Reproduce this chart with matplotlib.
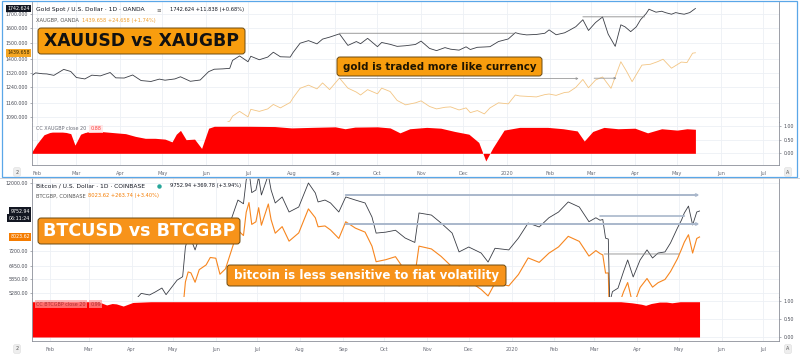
import matplotlib
matplotlib.use("Agg")
import matplotlib.pyplot as plt
import matplotlib.transforms as mtransforms
from matplotlib.patches import FancyBboxPatch, Rectangle
from matplotlib.ticker import FixedLocator, FixedFormatter, NullLocator
import pandas as pd

W, H = 800, 357

# ---------------- data: gold (top chart) ----------------
gold_dates = ["2019-01-28", "2019-01-31", "2019-02-05", "2019-02-08", "2019-02-13", "2019-02-20",
              "2019-02-25", "2019-03-01", "2019-03-07", "2019-03-12", "2019-03-18", "2019-03-25",
              "2019-03-29", "2019-04-04", "2019-04-10", "2019-04-16", "2019-04-23", "2019-04-29",
              "2019-05-03", "2019-05-10", "2019-05-14", "2019-05-21", "2019-05-28", "2019-06-03",
              "2019-06-07", "2019-06-13", "2019-06-18", "2019-06-20", "2019-06-25", "2019-07-01",
              "2019-07-03", "2019-07-09", "2019-07-15", "2019-07-19", "2019-07-24", "2019-07-31",
              "2019-08-02", "2019-08-07", "2019-08-13", "2019-08-19", "2019-08-23", "2019-08-28",
              "2019-09-04", "2019-09-10", "2019-09-16", "2019-09-19", "2019-09-24", "2019-10-01",
              "2019-10-04", "2019-10-10", "2019-10-15", "2019-10-21", "2019-10-28", "2019-11-01",
              "2019-11-07", "2019-11-12", "2019-11-18", "2019-11-22", "2019-11-28", "2019-12-03",
              "2019-12-06", "2019-12-11", "2019-12-16", "2019-12-20", "2019-12-26", "2020-01-02",
              "2020-01-07", "2020-01-10", "2020-01-15", "2020-01-22", "2020-01-28", "2020-01-31",
              "2020-02-05", "2020-02-11", "2020-02-14", "2020-02-19", "2020-02-24", "2020-02-28",
              "2020-03-04", "2020-03-09", "2020-03-13", "2020-03-18", "2020-03-22", "2020-03-25",
              "2020-03-29", "2020-04-02", "2020-04-05", "2020-04-09", "2020-04-11", "2020-04-16",
              "2020-04-20", "2020-04-23", "2020-04-27", "2020-04-30", "2020-05-03", "2020-05-06",
              "2020-05-10", "2020-05-14"]
gold_usd = [1303, 1320, 1315, 1314, 1306, 1340,
            1328, 1294, 1286, 1307, 1303, 1322,
            1292, 1291, 1308, 1277, 1272, 1285,
            1279, 1286, 1298, 1273, 1280, 1327,
            1341, 1343, 1346, 1393, 1420, 1385,
            1418, 1397, 1413, 1443, 1415, 1413,
            1441, 1500, 1517, 1496, 1527, 1540,
            1562, 1486, 1511, 1497, 1532, 1478,
            1505, 1493, 1480, 1484, 1492, 1514,
            1467, 1453, 1472, 1462, 1456, 1477,
            1460, 1474, 1476, 1478, 1511, 1528,
            1570, 1562, 1555, 1558, 1566, 1589,
            1556, 1569, 1584, 1611, 1660, 1585,
            1640, 1680, 1560, 1480, 1624, 1610,
            1577, 1610, 1660, 1705, 1737, 1715,
            1722, 1711, 1700, 1712, 1705, 1700,
            1712, 1742.624]

gold_gbp_dates = ["2019-01-28", "2019-02-08", "2019-02-20", "2019-03-01", "2019-03-12", "2019-03-25",
                  "2019-04-04", "2019-04-16", "2019-04-23", "2019-05-03", "2019-05-14", "2019-05-21",
                  "2019-05-28", "2019-06-03", "2019-06-07", "2019-06-13", "2019-06-18", "2019-06-20",
                  "2019-06-25", "2019-07-01", "2019-07-03", "2019-07-09", "2019-07-15", "2019-07-19",
                  "2019-07-24", "2019-07-31", "2019-08-02", "2019-08-07", "2019-08-13", "2019-08-19",
                  "2019-08-23", "2019-08-28", "2019-09-04", "2019-09-10", "2019-09-16", "2019-09-19",
                  "2019-09-24", "2019-10-01", "2019-10-04", "2019-10-10", "2019-10-15", "2019-10-21",
                  "2019-10-28", "2019-11-01", "2019-11-07", "2019-11-12", "2019-11-18", "2019-11-22",
                  "2019-11-28", "2019-12-03", "2019-12-06", "2019-12-11", "2019-12-16", "2019-12-20",
                  "2019-12-26", "2020-01-02", "2020-01-07", "2020-01-10", "2020-01-15", "2020-01-22",
                  "2020-01-28", "2020-01-31", "2020-02-05", "2020-02-11", "2020-02-14", "2020-02-19",
                  "2020-02-24", "2020-02-28", "2020-03-04", "2020-03-09", "2020-03-15", "2020-03-22",
                  "2020-03-26", "2020-03-30", "2020-04-06", "2020-04-12", "2020-04-17", "2020-04-21",
                  "2020-04-27", "2020-05-04", "2020-05-08", "2020-05-12", "2020-05-14"]
gold_gbp = [995, 1016, 1028, 979, 985, 1002,
            985, 978, 981, 983, 1006, 1002,
            1011, 1049, 1055, 1058, 1072, 1095,
            1118, 1092, 1128, 1118, 1130, 1152,
            1135, 1162, 1185, 1235, 1252, 1232,
            1264, 1228, 1291, 1236, 1215, 1200,
            1228, 1206, 1236, 1218, 1172, 1150,
            1160, 1170, 1142, 1130, 1138, 1140,
            1125, 1135, 1112, 1122, 1106, 1135,
            1160, 1155, 1200, 1195, 1193, 1190,
            1202, 1205, 1198, 1213, 1215, 1240,
            1283, 1238, 1280, 1297, 1235, 1385,
            1330, 1271, 1365, 1370, 1385, 1400,
            1347, 1383, 1380, 1437, 1439.658]

cc_gold_dates = ["2019-01-28", "2019-02-01", "2019-02-06", "2019-02-12", "2019-02-19", "2019-02-25",
                 "2019-02-28", "2019-03-04", "2019-03-08", "2019-03-18", "2019-03-27", "2019-04-05",
                 "2019-04-12", "2019-04-19", "2019-04-26", "2019-05-03", "2019-05-08", "2019-05-11",
                 "2019-05-14", "2019-05-18", "2019-05-24", "2019-05-29", "2019-06-03", "2019-06-07",
                 "2019-07-01", "2019-07-20", "2019-08-01", "2019-08-15", "2019-09-01", "2019-09-08",
                 "2019-09-15", "2019-10-01", "2019-10-10", "2019-10-17", "2019-10-24", "2019-11-05",
                 "2019-11-15", "2019-11-25", "2019-12-05", "2019-12-12", "2019-12-17", "2019-12-22",
                 "2019-12-30", "2020-01-10", "2020-01-30", "2020-02-10", "2020-02-20", "2020-02-25",
                 "2020-03-02", "2020-03-10", "2020-03-20", "2020-04-01", "2020-04-10", "2020-04-20",
                 "2020-05-01", "2020-05-08", "2020-05-14"]
cc_gold = [0.02, 0.35, 0.68, 0.80, 0.80, 0.72,
           0.30, 0.70, 0.78, 0.80, 0.76, 0.72,
           0.62, 0.55, 0.55, 0.52, 0.42, 0.70,
           0.84, 0.50, 0.52, 0.18, 0.92, 0.99,
           0.99, 0.98, 0.93, 0.95, 0.97, 0.90,
           0.96, 0.97, 0.93, 0.75, 0.90, 0.95,
           0.92, 0.80, 0.70, 0.40, -0.28, 0.20,
           0.85, 0.95, 0.95, 0.90, 0.82, 0.45,
           0.80, 0.95, 0.90, 0.92, 0.75, 0.90,
           0.85, 0.90, 0.88]

# ---------------- data: bitcoin (bottom chart) ----------------
btc_dates = ["2019-01-19", "2019-01-28", "2019-02-07", "2019-02-09", "2019-02-24", "2019-02-25",
             "2019-03-10", "2019-03-25", "2019-04-01", "2019-04-02", "2019-04-08", "2019-04-14",
             "2019-04-18", "2019-04-23", "2019-04-26", "2019-05-04", "2019-05-08", "2019-05-10",
             "2019-05-12", "2019-05-14", "2019-05-17", "2019-05-20", "2019-05-25", "2019-05-28",
             "2019-06-01", "2019-06-04", "2019-06-08", "2019-06-12", "2019-06-17", "2019-06-21",
             "2019-06-23", "2019-06-25", "2019-06-27", "2019-06-30", "2019-07-02", "2019-07-04",
             "2019-07-06", "2019-07-09", "2019-07-11", "2019-07-14", "2019-07-19", "2019-07-24",
             "2019-07-31", "2019-08-07", "2019-08-12", "2019-08-14", "2019-08-19", "2019-08-23",
             "2019-08-29", "2019-09-03", "2019-09-10", "2019-09-17", "2019-09-22", "2019-09-25",
             "2019-10-02", "2019-10-09", "2019-10-16", "2019-10-23", "2019-10-26", "2019-11-04",
             "2019-11-11", "2019-11-19", "2019-11-24", "2019-12-01", "2019-12-10", "2019-12-15",
             "2019-12-20", "2019-12-30", "2020-01-06", "2020-01-13", "2020-01-21", "2020-01-28",
             "2020-02-04", "2020-02-11", "2020-02-19", "2020-02-26", "2020-03-02", "2020-03-05",
             "2020-03-07", "2020-03-09", "2020-03-11", "2020-03-12", "2020-03-14", "2020-03-18",
             "2020-03-22", "2020-03-25", "2020-03-29", "2020-04-03", "2020-04-08", "2020-04-12",
             "2020-04-16", "2020-04-21", "2020-04-25", "2020-04-30", "2020-05-03", "2020-05-05",
             "2020-05-08", "2020-05-11", "2020-05-14", "2020-05-16"]
btc_usd = [3650, 3450, 3400, 3650, 4100, 3800,
           3900, 4000, 4150, 4900, 5250, 5187,
           5300, 5465, 5200, 5800, 5950, 7440,
           8020, 7900, 7277, 8000, 8260, 8700,
           8650, 7700, 8020, 9120, 10590, 10300,
           12320, 13200, 11200, 11420, 12600, 11000,
           11680, 12800, 11420, 10360, 10840, 9680,
           10050, 12040, 11170, 10440, 10590, 10360,
           9680, 10840, 10590, 10360, 9320, 8260,
           8320, 8440, 7960, 7700, 9610, 9460,
           8910, 8260, 7170, 7440, 7110, 6645,
           7370, 7280, 7960, 8910, 8650, 9270,
           9680, 10440, 10050, 9000, 9270, 9100,
           9150, 7950, 7900, 4900, 5320, 5460,
           6185, 6750, 5940, 6750, 7280, 6850,
           7110, 7170, 7670, 8580, 9120, 9610,
           10120, 8780, 9680, 9752.94]
btc_gbp = [2808, 2654, 2615, 2808, 3154, 2923,
           2977, 3030, 3168, 3740, 4008, 3960,
           4077, 4220, 4031, 4427, 4577, 5723,
           6169, 6124, 5707, 6275, 6504, 6877,
           6838, 6063, 6315, 7181, 8438, 8110,
           9663, 10394, 8819, 8992, 10000, 8765,
           9344, 10281, 9136, 8255, 8672, 7775,
           8272, 9909, 9270, 8664, 8716, 8457,
           7934, 8996, 8575, 8321, 7486, 6661,
           6764, 6918, 6219, 5992, 7490, 7333,
           6934, 6403, 5558, 5767, 5407, 5150,
           5669, 5557, 6053, 6854, 6628, 7103,
           7446, 8062, 7761, 6950, 7242, 7082,
           7011, 6115, 6124, 3874, 4325, 4707,
           5309, 5696, 4771, 5488, 5871, 5502,
           5688, 5829, 6185, 6810, 7325, 7719,
           8161, 7109, 7934, 8023.62]

cc_btc_dates = ["2019-01-19", "2019-02-15", "2019-03-08", "2019-03-14", "2019-03-18", "2019-03-21",
                "2019-03-26", "2019-04-02", "2019-04-15", "2019-08-01", "2020-01-01", "2020-03-20",
                "2020-03-28", "2020-04-04", "2020-04-07", "2020-04-11", "2020-04-17", "2020-04-22",
                "2020-04-26", "2020-05-02", "2020-05-16"]
cc_btc = [0.98, 0.98, 0.98, 0.89, 0.93, 0.92,
          0.86, 0.96, 0.98, 0.98, 0.98, 0.98,
          0.95, 0.91, 0.88, 0.93, 0.97, 0.97,
          0.95, 0.98, 0.98]

month_ticks = ["2019-02-01", "2019-03-01", "2019-04-01", "2019-05-01", "2019-06-01", "2019-07-01",
               "2019-08-01", "2019-09-01", "2019-10-01", "2019-11-01", "2019-12-01", "2020-01-01",
               "2020-02-01", "2020-03-01", "2020-04-01", "2020-05-01", "2020-06-01", "2020-07-01"]
month_labels = ["Feb", "Mar", "Apr", "May", "Jun", "Jul", "Aug", "Sep", "Oct", "Nov", "Dec",
                "2020", "Feb", "Mar", "Apr", "May", "Jun", "Jul"]
gold_yticks = [1090, 1160, 1240, 1320, 1400, 1500, 1600, 1700]
btc_yticks = [5280, 5850, 6450, 7200, 12000]
cc_yticks = [0.0, 0.5, 1.0]

D = pd.to_datetime
GRID = "#edf0f5"
AXC = "#8c8f99"
TXT = "#4a4d57"

fig = plt.figure(figsize=(8, 3.57), dpi=100)
fig.patch.set_facecolor("white")


def px_axes(x0, y0, x1, y1):
    return fig.add_axes([x0 / W, 1 - y1 / H, (x1 - x0) / W, (y1 - y0) / H])


def style(ax, xlim, labels=False):
    ax.set_xlim(D(xlim[0]), D(xlim[1]))
    ax.set_xticks(D(month_ticks))
    ax.grid(True, color=GRID, lw=0.6)
    ax.set_axisbelow(True)
    for s in ax.spines.values():
        s.set_color(AXC)
        s.set_linewidth(0.6)
    ax.spines["top"].set_visible(False)
    if labels:
        ax.set_xticklabels(month_labels)
        ax.tick_params(axis="x", length=0, pad=4.2, labelsize=3.6, labelcolor="#6a6d78")
    else:
        ax.tick_params(axis="x", length=0, labelbottom=False)


def price_scale(ax, ticks, fmt, lo, hi):
    ax.set_yscale("log")
    ax.set_ylim(lo, hi)
    ax.yaxis.set_major_locator(FixedLocator(ticks))
    ax.yaxis.set_major_formatter(FixedFormatter([fmt % t for t in ticks]))
    ax.yaxis.set_minor_locator(NullLocator())
    ax.tick_params(axis="y", length=1.5, width=0.5, pad=1.5, labelsize=3.4,
                   labelcolor=TXT, color=AXC)


def cc_scale(ax, lo, hi):
    ax.set_ylim(lo, hi)
    ax.yaxis.tick_right()
    ax.set_yticks(cc_yticks)
    ax.set_yticklabels(["%.2f" % v for v in cc_yticks])
    ax.tick_params(axis="y", length=1.5, width=0.5, pad=2, labelsize=3.4,
                   labelcolor=TXT, color=AXC)


def price_tag(ax, value, text, fc, tc, dy=0):
    tr = mtransforms.blended_transform_factory(ax.transAxes, ax.transData)
    ax.annotate(text, xy=(0, value), xycoords=tr, xytext=(-1.5, dy), textcoords="offset points",
                ha="right", va="center", fontsize=3.4, color=tc, clip_on=False, zorder=6,
                bbox=dict(boxstyle="square,pad=0.3", fc=fc, ec="none"))


def hline(ax, d0, d1, value, color, lw, arrow=True):
    ax.annotate("", xy=(D(d1), value), xytext=(D(d0), value),
                arrowprops=dict(arrowstyle="-|>" if arrow else "-", color=color, lw=lw,
                                mutation_scale=3, shrinkA=0, shrinkB=0), zorder=4)


gold_xlim = ("2019-01-28 11:00", "2020-07-12 10:00")
btc_xlim = ("2019-01-19 00:00", "2020-07-12 12:00")

# ---- top chart ----
ax_g = px_axes(32, 2, 779, 122)
style(ax_g, gold_xlim)
price_scale(ax_g, gold_yticks, "%.3f", 1068, 1792)
ax_g.plot(D(gold_gbp_dates), gold_gbp, color="#f3c583", lw=0.6)
ax_g.plot(D(gold_dates), gold_usd, color="#3a3d45", lw=0.6)
hline(ax_g, "2019-09-04", "2020-01-06", 1566, "#8a8a8a", 0.6, arrow=False)
hline(ax_g, "2020-02-24", "2020-04-08", 1681, "#8a8a8a", 0.6, arrow=False)
hline(ax_g, "2019-09-04", "2020-02-21", 1288, "#9a9a9a", 0.6)
hline(ax_g, "2020-03-03", "2020-03-19", 1290, "#9a9a9a", 0.6)
price_tag(ax_g, 1742.624, "1742.624", "#131722", "white")
price_tag(ax_g, 1439.658, "1439.658", "#f5a623", "#3a2a00")

ax_gc = px_axes(32, 122, 779, 165)
style(ax_gc, gold_xlim, labels=True)
cc_scale(ax_gc, -0.428, 1.147)
ax_gc.fill_between(D(cc_gold_dates), 0, cc_gold, color="#ff0000", lw=0)

# ---- bottom chart ----
ax_b = px_axes(32, 178, 779, 297)
style(ax_b, btc_xlim)
price_scale(ax_b, btc_yticks, "%.2f", 5109, 12500)
ax_b.plot(D(btc_dates), btc_gbp, color="#f7861f", lw=0.8)
ax_b.plot(D(btc_dates), btc_usd, color="#3a3d45", lw=0.6)
hline(ax_b, "2019-09-03", "2020-05-16", 11000, "#a9b7cb", 1.4)
hline(ax_b, "2019-09-03", "2020-05-16", 8845, "#a9b7cb", 1.4)
hline(ax_b, "2020-03-05", "2020-05-05", 9393, "#a9b7cb", 1.2, arrow=False)
hline(ax_b, "2020-03-08", "2020-05-01", 7060, "#8a8a8a", 0.6, arrow=False)
price_tag(ax_b, 9752.94, "9752.94", "#131722", "white")
price_tag(ax_b, 9752.94, "06:11:24", "#131722", "white", dy=-5.3)
price_tag(ax_b, 8023.62, "8023.62", "#f57c00", "white")

ax_bc = px_axes(32, 297, 779, 341)
style(ax_bc, btc_xlim, labels=True)
cc_scale(ax_bc, -0.111, 1.111)
ax_bc.fill_between(D(cc_btc_dates), 0, cc_btc, color="#ff0000", lw=0)

# ---- overlay for legends, callouts and frame ----
ov = fig.add_axes([0, 0, 1, 1], zorder=10)
ov.set_xlim(0, W)
ov.set_ylim(H, 0)
ov.axis("off")
ov.patch.set_alpha(0)

ov.add_patch(Rectangle((1.5, 1), 795.5, 175.5, fill=False, ec="#5aa7e8", lw=0.9))
ov.plot([0, W], [177.5, 177.5], color="#c9ccd3", lw=0.6)

fs = 4.3
ov.text(36, 9.5, "Gold Spot / U.S. Dollar · 1D · OANDA", fontsize=fs, color="#131722", va="center")
ov.text(159, 9.5, "≡", fontsize=4, color="#666", va="center", ha="center")
ov.text(170, 9.5, "1742.624 +11.838 (+0.68%)", fontsize=3.7, color="#131722", va="center")
ov.text(36, 20.5, "XAUGBP, OANDA", fontsize=3.7, color="#555", va="center")
ov.text(82, 20.5, "1439.658 +24.658 (+1.74%)", fontsize=3.7, color="#f0a030", va="center")

ov.text(36, 185.5, "Bitcoin / U.S. Dollar · 1D · COINBASE", fontsize=fs, color="#131722", va="center")
ov.plot([159], [185.5], "o", ms=2.2, color="#26a69a")
ov.text(170, 185.5, "9752.94 +369.78 (+3.94%)", fontsize=3.7, color="#131722", va="center")
ov.text(36, 196, "BTCGBP, COINBASE", fontsize=3.7, color="#555", va="center")
ov.text(88, 196, "8023.62 +263.74 (+3.40%)", fontsize=3.7, color="#f57c00", va="center")

ov.text(36, 129, "CC XAUGBP close 20", fontsize=3.5, color="#6a6d78", va="center",
        bbox=dict(boxstyle="square,pad=0.25", fc="white", ec="none", alpha=0.6))
ov.text(90.5, 129, "0.88", fontsize=3.5, color="#ff4040", va="center",
        bbox=dict(boxstyle="square,pad=0.25", fc="#ffe3e3", ec="none", alpha=0.8))
ov.text(36, 304, "CC BTCGBP close 20", fontsize=3.5, color="#b03030", va="center",
        bbox=dict(boxstyle="square,pad=0.25", fc="#ff9a9a", ec="none", alpha=0.7))
ov.text(90.5, 304, "0.99", fontsize=3.5, color="#b03030", va="center",
        bbox=dict(boxstyle="square,pad=0.25", fc="#ff9a9a", ec="none", alpha=0.7))


def callout(x0, y0, x1, y1, text, fc, tc, size):
    ov.add_patch(FancyBboxPatch((x0, y0), x1 - x0, y1 - y0,
                                boxstyle="round,pad=0,rounding_size=3",
                                fc=fc, ec="#6b4a12", lw=0.7))
    ov.text((x0 + x1) / 2, (y0 + y1) / 2 + 0.5, text, ha="center", va="center",
            fontsize=size, fontweight="bold", color=tc)


callout(38, 28, 245, 54, "XAUUSD vs XAUGBP", "#f89d0e", "#111111", 12.4)
callout(337, 57, 542, 76, "gold is traded more like currency", "#f89d0e", "#1e1400", 7.4)
callout(38, 218, 240, 244, "BTCUSD vs BTCGBP", "#f7931a", "white", 12.6)
callout(227, 265, 506, 286, "bitcoin is less sensitive to fiat volatility", "#f7931a", "white", 8.6)

for yb in (172, 349):
    ov.text(17, yb, "2", fontsize=3.5, color="#555", ha="center", va="center",
            bbox=dict(boxstyle="round,pad=0.4", fc="#eeeeee", ec="#dddddd", lw=0.4))
    ov.text(788, yb, "A", fontsize=3.5, color="#555", ha="center", va="center",
            bbox=dict(boxstyle="round,pad=0.4", fc="#eeeeee", ec="#dddddd", lw=0.4))

fig.savefig("out.png", dpi=100)
